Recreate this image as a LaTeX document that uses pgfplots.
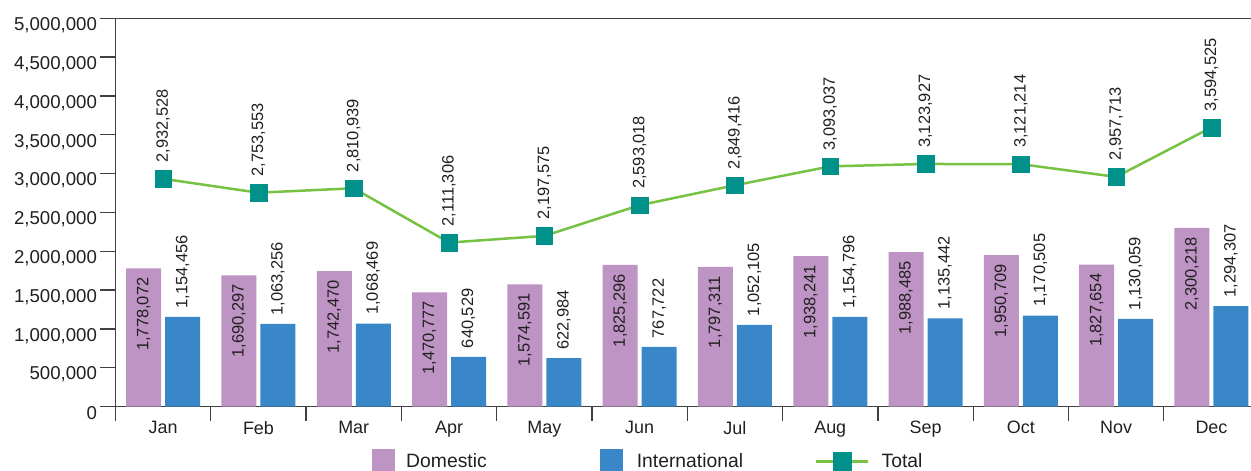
\documentclass[border=0pt]{standalone}
\usepackage{pgfplots}
\usepackage{pgfplotstable}
\pgfplotsset{compat=1.18}
\usepackage{fontspec}
\setmainfont{Liberation Sans}
\definecolor{dom}{HTML}{BD94C4}
\definecolor{intl}{HTML}{3987C8}
\definecolor{totline}{HTML}{77C143}
\definecolor{totmark}{HTML}{00918A}
\definecolor{txt}{HTML}{231F20}
\definecolor{axl}{HTML}{404040}

\pgfplotstableread{
x y lab
0 1778072 1,778,072
1 1690297 1,690,297
2 1742470 1,742,470
3 1470777 1,470,777
4 1574591 1,574,591
5 1825296 1,825,296
6 1797311 1,797,311
7 1938241 1,938,241
8 1988485 1,988,485
9 1950709 1,950,709
10 1827654 1,827,654
11 2300218 2,300,218
}\domtab

\pgfplotstableread{
x y lab
0 1154456 1,154,456
1 1063256 1,063,256
2 1068469 1,068,469
3 640529 640,529
4 622984 622,984
5 767722 767,722
6 1052105 1,052,105
7 1154796 1,154,796
8 1135442 1,135,442
9 1170505 1,170,505
10 1130059 1,130,059
11 1294307 1,294,307
}\intltab

\pgfplotstableread{
x y lab
0 2932528 2,932,528
1 2753553 2,753,553
2 2810939 2,810,939
3 2111306 2,111,306
4 2197575 2,197,575
5 2593018 2,593,018
6 2849416 2,849,416
7 3093037 3,093,037
8 3123927 3,123,927
9 3121214 3,121,214
10 2957713 2,957,713
11 3594525 3,594,525
}\tottab

\begin{document}
\begin{tikzpicture}
\begin{axis}[
  at={(0,0)}, anchor=south west,
  scale only axis, width=1143.6bp, height=388.2bp,
  xmin=-0.5, xmax=11.5, ymin=0, ymax=5000000,
  axis line style={draw=axl, line width=1.3bp},
  tick pos=left,
  xtick={0,1,2,3,4,5,6,7,8,9,10,11},
  xticklabels={Jan,Feb,Mar,Apr,May,Jun,Jul,Aug,Sep,Oct,Nov,Dec},
  major x tick style={draw=none},
  minor xtick={-0.5,0.5,1.5,2.5,3.5,4.5,5.5,6.5,7.5,8.5,9.5,10.5,11.5},
  minor x tick style={draw=axl, line width=1.3bp},
  minor tick length=14bp,
  ytick={0,500000,1000000,1500000,2000000,2500000,3000000,3500000,4000000,4500000,5000000},
  yticklabels={0,{500,000},{1,000,000},{1,500,000},{2,000,000},{2,500,000},{3,000,000},{3,500,000},{4,000,000},{4,500,000},{5,000,000}},
  major tick length=15bp,
  y tick style={draw=axl, line width=1.3bp},
  tick align=outside,
  scaled y ticks=false,
  x tick label style={font=\fontsize{18}{20}\selectfont, text=txt, yshift=4bp},
  y tick label style={font=\fontsize{18.7}{20}\selectfont, text=txt, yshift=-7bp},
  legend columns=3,
  legend style={draw=none, fill=none, at={(axis description cs:0.2243,-0.1378)}, anchor=west,
    font=\fontsize{19.4}{21}\selectfont, text=txt, inner sep=0pt, nodes={inner sep=0pt},
    column sep=0pt,
    /tikz/column 1/.style={column sep=11bp},
    /tikz/column 2/.style={column sep=113bp},
    /tikz/column 3/.style={column sep=14bp},
    /tikz/column 4/.style={column sep=72bp},
    /tikz/column 5/.style={column sep=12bp}},
]
\addplot[ybar, draw=none, fill=dom, bar width=35bp, bar shift=-19.5bp,
  nodes near coords, point meta=explicit symbolic,
  every node near coord/.append style={xshift=-19.5bp, rotate=90, anchor=east, inner xsep=9bp, inner ysep=0pt,
    font=\fontsize{16.5}{18}\selectfont, text=txt},
  legend image code/.code={\fill[dom] (0bp,-9bp) rectangle (23bp,13bp);}]
  table[x=x, y=y, meta=lab]{\domtab};
\addplot[ybar, draw=none, fill=intl, bar width=35bp, bar shift=19.5bp,
  nodes near coords, point meta=explicit symbolic,
  every node near coord/.append style={xshift=19.5bp, rotate=90, anchor=west, inner xsep=8.5bp, inner ysep=0pt,
    font=\fontsize{16.5}{18}\selectfont, text=txt},
  legend image code/.code={\fill[intl] (0bp,-9bp) rectangle (23bp,13bp);}]
  table[x=x, y=y, meta=lab]{\intltab};
\addplot[sharp plot, color=totline, line width=2.5bp, mark=square*, mark size=8.3bp,
  mark options={fill=totmark, draw=totmark, line width=0.4bp},
  nodes near coords, point meta=explicit symbolic,
  every node near coord/.append style={rotate=90, anchor=west, inner xsep=16bp, inner ysep=0pt,
    font=\fontsize{16.5}{18}\selectfont, text=txt},
  legend image code/.code={\draw[totline, line width=2.5bp] (0bp,0bp) -- (52bp,0bp);
     \fill[totmark] (17.5bp,-8.5bp) rectangle (34.5bp,8.5bp);}]
  table[x=x, y=y, meta=lab]{\tottab};
\legend{Domestic,International,Total}
\end{axis}
\pgfresetboundingbox
\path[use as bounding box] (-115.5bp,-64.5bp) rectangle (1135.5bp,406.5bp);
\end{tikzpicture}
\end{document}
